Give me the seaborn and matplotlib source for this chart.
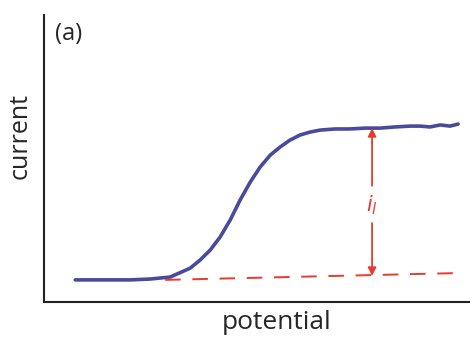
import pandas as pd
import matplotlib
matplotlib.use("Agg")
import matplotlib.pyplot as plt
import seaborn as sns

# voltammogram, values (arbitrary units)
potential = [0.73, 1.31, 2.02, 2.49, 2.96, 3.43, 3.66, 3.90, 4.13, 4.37, 4.60,
             4.84, 5.07, 5.31, 5.54, 5.77, 6.01, 6.24, 6.48, 6.83, 7.18, 7.54,
             7.89, 8.24, 8.59, 8.83, 9.06, 9.30, 9.53, 9.72]
current = [0.77, 0.77, 0.77, 0.80, 0.87, 1.18, 1.46, 1.81, 2.26, 2.86, 3.55,
           4.18, 4.70, 5.12, 5.40, 5.64, 5.82, 5.92, 5.99, 6.03, 6.03, 6.06,
           6.06, 6.10, 6.13, 6.13, 6.10, 6.17, 6.13, 6.20]

# residual current baseline
base_x = [2.84, 9.77]
base_y = [0.77, 1.01]

# limiting current arrow
arrow_x = 7.70
arrow_top = 6.06
arrow_bottom = 0.91

df = pd.DataFrame({"potential": potential, "current": current})

sns.set_style("white")
plt.rcParams["font.family"] = ["Open Sans", "DejaVu Sans"]

red = "#e63b2e"

fig, ax = plt.subplots(figsize=(4.7, 3.42), dpi=100)
sns.lineplot(data=df, x="potential", y="current", ax=ax, color="#4a4a9c",
             linewidth=2.6, sort=False, solid_joinstyle="round",
             solid_capstyle="round")
ax.plot(base_x, base_y, color=red, linestyle=(0, (8, 6)), linewidth=1.4)

ax.annotate("", xy=(arrow_x, arrow_top), xytext=(arrow_x, 4.05),
            arrowprops=dict(arrowstyle="-|>", color=red, lw=1.3,
                            mutation_scale=12, shrinkA=0, shrinkB=0))
ax.annotate("", xy=(arrow_x, arrow_bottom), xytext=(arrow_x, 2.75),
            arrowprops=dict(arrowstyle="-|>", color=red, lw=1.3,
                            mutation_scale=12, shrinkA=0, shrinkB=0))
ax.text(arrow_x, 3.38, r"$i_l$", color=red, fontsize=15, ha="center", va="center")

ax.text(0.025, 0.975, "(a)", transform=ax.transAxes, fontsize=17,
        ha="left", va="top")

ax.set_xlim(0, 10)
ax.set_ylim(0, 10)
ax.set_xticks([])
ax.set_yticks([])
ax.set_xlabel("potential", fontsize=19, labelpad=6)
ax.set_ylabel("current", fontsize=18, labelpad=8)
ax.xaxis.label.set_x(0.547)
ax.yaxis.label.set_y(0.58)
sns.despine(ax=ax)
for s in ["left", "bottom"]:
    ax.spines[s].set_linewidth(1.5)
    ax.spines[s].set_color("#222222")

fig.subplots_adjust(left=0.094, right=1.0, bottom=0.117, top=0.956)
fig.savefig("out.png", dpi=100)
